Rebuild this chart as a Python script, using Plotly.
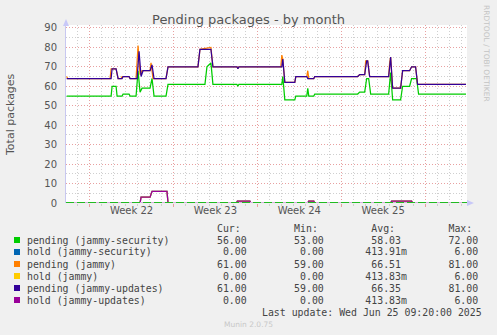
import plotly.graph_objects as go

# ---------------------------------------------------------------- data
# pending packages per suite, 2-hour averages (change points)
sec_time = [
    "2025-05-24 02:00", "2025-05-27 19:00", "2025-05-27 21:00", "2025-05-28 05:00",
    "2025-05-28 07:00", "2025-05-28 17:00", "2025-05-28 19:00", "2025-05-29 07:00",
    "2025-05-29 09:00", "2025-05-29 21:00", "2025-05-30 01:00", "2025-05-30 05:00",
    "2025-05-30 09:00", "2025-05-31 01:00", "2025-05-31 05:00", "2025-05-31 09:00",
    "2025-06-01 09:00", "2025-06-01 13:00", "2025-06-04 15:00", "2025-06-04 19:00",
    "2025-06-05 03:00", "2025-06-05 07:00", "2025-06-07 07:00", "2025-06-07 09:00",
    "2025-06-07 11:00", "2025-06-11 01:00", "2025-06-11 03:00", "2025-06-11 07:00",
    "2025-06-12 03:00", "2025-06-12 05:00", "2025-06-13 03:00", "2025-06-13 05:00",
    "2025-06-13 07:00", "2025-06-13 17:00", "2025-06-13 19:00", "2025-06-17 09:00",
    "2025-06-17 13:00", "2025-06-17 23:00", "2025-06-18 03:00", "2025-06-18 07:00",
    "2025-06-18 11:00", "2025-06-19 23:00", "2025-06-20 03:00", "2025-06-20 07:00",
    "2025-06-20 23:00", "2025-06-21 03:00", "2025-06-21 17:00", "2025-06-21 21:00",
    "2025-06-22 07:00", "2025-06-22 11:00", "2025-06-26 10:00",
]
pending_security = [
    55, 55, 60, 60, 55, 55, 56, 56, 55, 55, 68, 57, 59, 59, 64, 55, 55, 61, 61, 70,
    72, 61, 61, 60, 61, 61, 65, 53, 53, 55, 55, 59, 55, 55, 56, 56, 57, 57, 64, 64,
    56, 56, 67, 53, 53, 60, 60, 64, 64, 56, 56,
]

upd_time = [
    "2025-05-24 02:00", "2025-05-27 19:00", "2025-05-27 21:00", "2025-05-28 05:00",
    "2025-05-28 09:00", "2025-05-28 17:00", "2025-05-28 19:00", "2025-05-29 07:00",
    "2025-05-29 09:00", "2025-05-29 23:00", "2025-05-30 03:00", "2025-05-30 07:00",
    "2025-05-30 11:00", "2025-05-31 01:00", "2025-05-31 05:00", "2025-05-31 09:00",
    "2025-06-01 09:00", "2025-06-01 13:00", "2025-06-04 01:00", "2025-06-04 05:00",
    "2025-06-05 03:00", "2025-06-05 07:00", "2025-06-07 07:00", "2025-06-07 09:00",
    "2025-06-07 11:00", "2025-06-11 01:00", "2025-06-11 03:00", "2025-06-11 07:00",
    "2025-06-12 03:00", "2025-06-12 05:00", "2025-06-13 03:00", "2025-06-13 05:00",
    "2025-06-13 17:00", "2025-06-13 19:00", "2025-06-17 09:00", "2025-06-17 13:00",
    "2025-06-17 23:00", "2025-06-18 03:00", "2025-06-18 05:00", "2025-06-18 09:00",
    "2025-06-19 23:00", "2025-06-20 03:00", "2025-06-20 07:00", "2025-06-20 23:00",
    "2025-06-21 03:00", "2025-06-21 17:00", "2025-06-21 21:00", "2025-06-22 05:00",
    "2025-06-22 09:00", "2025-06-26 10:00",
]
pending_updates = [
    64, 64, 69, 69, 64, 64, 65, 65, 64, 64, 78, 65, 68, 68, 71, 64, 64, 70, 70, 79,
    79, 70, 70, 69, 70, 70, 74, 62, 62, 65, 65, 64, 64, 65, 65, 66, 66, 73, 73, 65,
    65, 75, 59, 59, 68, 68, 70, 70, 61, 61,
]

jammy_time = [
    "2025-05-24 02:00", "2025-05-24 04:00", "2025-05-27 17:00", "2025-05-27 19:00",
    "2025-05-28 05:00", "2025-05-28 09:00", "2025-05-28 15:00", "2025-05-28 17:00",
    "2025-05-29 07:00", "2025-05-29 09:00", "2025-05-29 21:00", "2025-05-30 01:00",
    "2025-05-30 05:00", "2025-05-30 09:00", "2025-05-31 01:00", "2025-05-31 03:00",
    "2025-05-31 07:00", "2025-06-01 09:00", "2025-06-01 13:00", "2025-06-04 01:00",
    "2025-06-04 05:00", "2025-06-05 03:00", "2025-06-05 07:00", "2025-06-07 07:00",
    "2025-06-07 09:00", "2025-06-07 11:00", "2025-06-10 23:00", "2025-06-11 01:00",
    "2025-06-11 03:00", "2025-06-11 07:00", "2025-06-12 03:00", "2025-06-12 05:00",
    "2025-06-13 03:00", "2025-06-13 05:00", "2025-06-13 07:00", "2025-06-13 17:00",
    "2025-06-13 19:00", "2025-06-17 09:00", "2025-06-17 13:00", "2025-06-17 23:00",
    "2025-06-18 01:00", "2025-06-18 05:00", "2025-06-18 09:00", "2025-06-19 23:00",
    "2025-06-20 01:00", "2025-06-20 03:00", "2025-06-20 07:00", "2025-06-20 23:00",
    "2025-06-21 03:00", "2025-06-21 17:00", "2025-06-21 21:00", "2025-06-22 05:00",
    "2025-06-22 09:00", "2025-06-26 10:00",
]
pending_jammy = [
    65, 64, 64, 69, 69, 64, 64, 65, 65, 64, 64, 81, 66, 68, 68, 72, 64, 64, 70, 70,
    79, 80, 70, 70, 69, 70, 70, 76, 74, 62, 62, 65, 65, 68, 64, 64, 65, 65, 66, 66,
    73, 73, 65, 65, 72, 75, 59, 59, 68, 68, 70, 70, 61, 61,
]

# held-back packages per suite
hold_time = [
    "2025-05-24 02:00", "2025-05-30 05:00", "2025-05-30 07:00", "2025-05-31 01:00",
    "2025-05-31 05:00", "2025-06-01 11:00", "2025-06-01 13:00", "2025-06-07 06:00",
    "2025-06-07 08:00", "2025-06-08 09:00", "2025-06-08 11:00", "2025-06-13 05:00",
    "2025-06-13 07:00", "2025-06-13 17:00", "2025-06-13 19:00", "2025-06-20 03:00",
    "2025-06-20 05:00", "2025-06-21 21:00", "2025-06-21 23:00", "2025-06-26 10:00",
]
hold_security = [0, 0, 3, 3, 6, 6, 0, 0, 1, 1, 0, 0, 1, 1, 0, 0, 1, 1, 0, 0]
hold_jammy = [0, 0, 3, 3, 6, 6, 0, 0, 1, 1, 0, 0, 1, 1, 0, 0, 1, 1, 0, 0]
hold_updates = [0, 0, 3, 3, 6, 6, 0, 0, 1, 1, 0, 0, 1, 1, 0, 0, 1, 1, 0, 0]

# legend table
legend_names = [
    "pending (jammy-security)", "hold (jammy-security)", "pending (jammy)",
    "hold (jammy)", "pending (jammy-updates)", "hold (jammy-updates)",
]
legend_colors = ["#00CC00", "#0066B3", "#FF8000", "#FFCC00", "#330099", "#990099"]
cur_vals = [56.0, 0.0, 61.0, 0.0, 61.0, 0.0]
min_vals = [53.0, 0.0, 59.0, 0.0, 59.0, 0.0]
avg_vals = [58.03, 0.41391, 66.51, 0.41383, 66.35, 0.41383]
max_vals = [72.0, 6.0, 81.0, 6.0, 81.0, 6.0]

week_ticks = ["2025-05-29 12:00", "2025-06-05 12:00", "2025-06-12 12:00", "2025-06-19 12:00"]
week_labels = ["Week 22", "Week 23", "Week 24", "Week 25"]

# ---------------------------------------------------------------- layout helpers
W, H = 497, 335
PL, PR, PT, PB = 66, 467, 25, 203          # plot box in pixels
X_RANGE = ["2025-05-24 00:39", "2025-06-26 11:59"]
Y_RANGE = [0, 91.5]


def fx(p):
    return (p - PL) / (PR - PL)


def fy(p):
    return (PB - p) / (PB - PT)


def fmt(v):
    if 0 < abs(v) < 1:
        return f"{v * 1000:.2f}", "m"
    return f"{v:.2f}", " "


def row(name, values, ends=(37, 50, 63, 76)):
    s = name
    for v, end in zip(values, ends):
        num, unit = fmt(v)
        s = s.ljust(end - len(num)) + num + unit
    return s.replace(" ", "\u00a0")


MONO = "DejaVu Sans Mono"
SANS = "DejaVu Sans"
TXT = "#444444"

fig = go.Figure()

series = [
    (sec_time, pending_security, legend_names[0], legend_colors[0]),
    (hold_time, hold_security, legend_names[1], legend_colors[1]),
    (jammy_time, pending_jammy, legend_names[2], legend_colors[2]),
    (hold_time, hold_jammy, legend_names[3], legend_colors[3]),
    (upd_time, pending_updates, legend_names[4], legend_colors[4]),
    (hold_time, hold_updates, legend_names[5], legend_colors[5]),
]
for t, v, name, col in series:
    fig.add_trace(go.Scatter(x=t, y=v, name=name, mode="lines",
                             line=dict(color=col, width=1.25), showlegend=False,
                             hoverinfo="skip"))

# invisible trace that carries the week labels on the overlay axis
fig.add_trace(go.Scatter(x=week_ticks, y=[None] * len(week_ticks), xaxis="x2",
                         showlegend=False, hoverinfo="skip"))

fig.update_layout(
    width=W, height=H,
    margin=dict(l=PL, r=W - PR, t=PT, b=H - PB),
    paper_bgcolor="#F0F0F0", plot_bgcolor="#FFFFFF",
    title=dict(text="Pending packages - by month", x=0.5, xref="container",
               y=1 - 19 / H, yref="container", yanchor="middle", xanchor="center",
               font=dict(family=SANS, size=13, color="#555555")),
    xaxis=dict(
        type="date", range=X_RANGE, tick0="2025-05-26", dtick=7 * 86400000,
        showticklabels=False, ticks="outside", ticklen=3, tickcolor="#E8A0A0",
        showgrid=True, gridcolor="#E8A0A0", griddash="1px,2px", gridwidth=1,
        minor=dict(dtick=86400000, tick0="2025-05-26", showgrid=True,
                   gridcolor="#CFCFCF", griddash="1px,2px", ticks="outside",
                   ticklen=2, tickcolor="#CFCFCF"),
        showline=False, zeroline=False, fixedrange=True,
    ),
    xaxis2=dict(
        type="date", range=X_RANGE, overlaying="x", anchor="y", side="bottom",
        tickmode="array", tickvals=week_ticks, ticktext=week_labels,
        showgrid=False, ticks="", showline=False, zeroline=False,
        tickfont=dict(family=SANS, size=10, color="#555555"),
    ),
    yaxis=dict(
        range=Y_RANGE, tick0=0, dtick=10, showgrid=True, gridcolor="#E8A0A0",
        griddash="1px,2px", zeroline=False, ticks="", ticklabelstandoff=6,
        tickfont=dict(family=SANS, size=10, color="#555555"),
        minor=dict(dtick=5, showgrid=True, gridcolor="#CFCFCF", griddash="1px,2px"),
        showline=True, linecolor="#C8C8F0", linewidth=1,
    ),
)

shapes = [
    # base line at zero
    dict(type="line", xref="paper", yref="y", x0=0, x1=1, y0=0, y1=0,
         line=dict(color="#D8B0E0", width=2), layer="above"),
    dict(type="line", xref="paper", yref="y", x0=0, x1=1, y0=0, y1=0,
         line=dict(color="#22BB22", width=2, dash="8px,3px"), layer="above"),
    # axis arrow heads
    dict(type="path", xref="paper", yref="paper", layer="above",
         path=f"M {fx(63)},{fy(26)} L {fx(69)},{fy(26)} L {fx(66)},{fy(19)} Z",
         fillcolor="#C8C8F8", line=dict(width=0)),
    dict(type="path", xref="paper", yref="paper", layer="above",
         path=f"M {fx(467)},{fy(200)} L {fx(467)},{fy(206)} L {fx(474)},{fy(203)} Z",
         fillcolor="#C8C8F8", line=dict(width=0)),
]

annotations = [
    dict(text="Total packages", textangle=-90, x=fx(10), y=fy(115),
         xref="paper", yref="paper", showarrow=False, xanchor="center",
         yanchor="middle", font=dict(family=SANS, size=11, color="#555555")),
    dict(text="RRDTOOL / TOBI OETIKER", textangle=90, x=fx(487), y=fy(53),
         xref="paper", yref="paper", showarrow=False, xanchor="center",
         yanchor="middle", font=dict(family=SANS, size=7.5, color="#C4C4C4")),
]

mono_font = dict(family=MONO, size=9.87, color=TXT)
header = (" " * 32 + "Cur:" + " " * 9 + "Min:" + " " * 9 + "Avg:" + " " * 9 + "Max:")
annotations.append(dict(text=header.replace(" ", "\u00a0"), x=fx(25), y=fy(228),
                        xref="paper", yref="paper", showarrow=False,
                        xanchor="left", yanchor="middle", font=mono_font))

for i, name in enumerate(legend_names):
    yc = 240 + 12 * i
    annotations.append(dict(
        text=row(name, [cur_vals[i], min_vals[i], avg_vals[i], max_vals[i]]),
        x=fx(25), y=fy(yc), xref="paper", yref="paper", showarrow=False,
        xanchor="left", yanchor="middle", font=mono_font))
    shapes.append(dict(type="rect", xref="paper", yref="paper",
                       x0=fx(14), x1=fx(20), y0=fy(yc + 3), y1=fy(yc - 3),
                       fillcolor=legend_colors[i], line=dict(width=0)))

annotations.append(dict(text="Last update: Wed Jun 25 09:20:00 2025".replace(" ", "\u00a0"),
                        x=fx(484), y=fy(312), xref="paper", yref="paper",
                        showarrow=False, xanchor="right", yanchor="middle",
                        font=mono_font))
annotations.append(dict(text="Munin 2.0.75", x=fx(248), y=fy(324), xref="paper",
                        yref="paper", showarrow=False, xanchor="center",
                        yanchor="middle",
                        font=dict(family=SANS, size=7.5, color="#C8C8C8")))

fig.update_layout(shapes=shapes, annotations=annotations)
fig.write_html("out.html")
